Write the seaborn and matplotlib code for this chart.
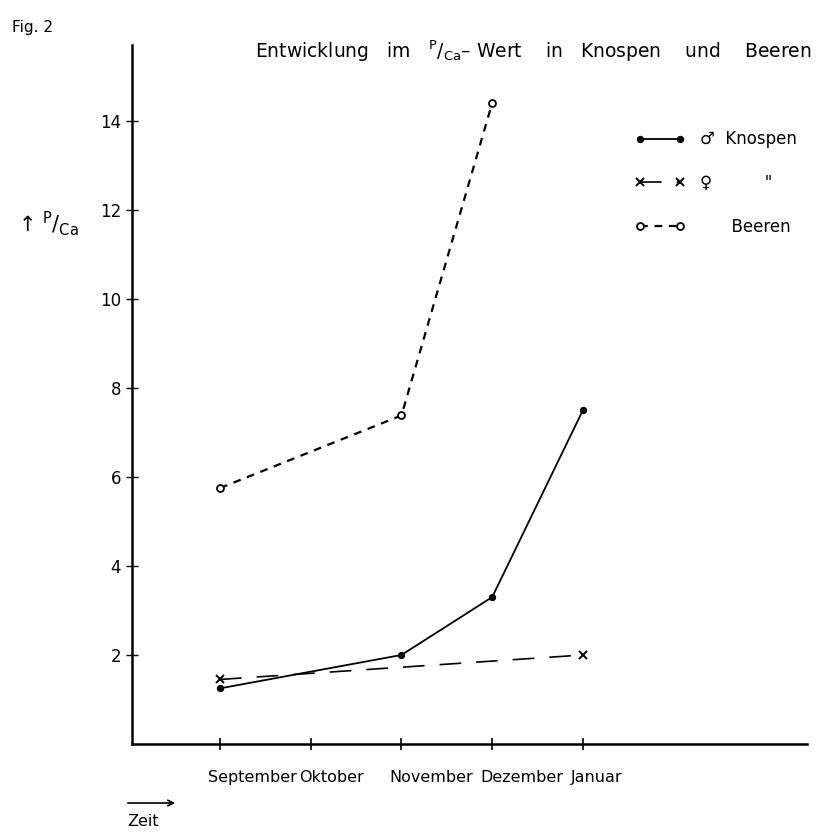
import matplotlib
matplotlib.use('Agg')
import matplotlib.pyplot as plt
import matplotlib.transforms as mtransforms
import seaborn as sns

# months on the x axis (only position index is plotted)
months = ['September', 'Oktober', 'November', 'Dezember', 'Januar']

# P/Ca values
male_x = [0, 2, 3, 4]
male_y = [1.25, 2.0, 3.3, 7.5]
female_x = [0, 4]
female_y = [1.45, 2.0]
berry_x = [0, 2, 3]
berry_y = [5.75, 7.38, 14.4]

yticks = [2, 4, 6, 8, 10, 12, 14]

sns.set_theme(style='white')
plt.rcParams['font.family'] = ['DejaVu Sans']
plt.rcParams['text.color'] = 'black'
plt.rcParams['xtick.color'] = 'black'
plt.rcParams['ytick.color'] = 'black'

fig = plt.figure(figsize=(8.17, 8.34), dpi=100)
ax = fig.add_axes([0.1616, 0.1079, 0.8262, 0.8381])

sns.lineplot(x=male_x, y=male_y, ax=ax, color='black', linewidth=1.3,
             marker='o', markersize=4.5, markeredgecolor='black',
             label='\u2642  Knospen')
sns.lineplot(x=female_x, y=female_y, ax=ax, color='black', linewidth=1.2,
             linestyle=(0, (13, 9)), marker='x', markersize=6,
             markeredgecolor='black', markeredgewidth=1.4,
             label='\u2640          "')
sns.lineplot(x=berry_x, y=berry_y, ax=ax, color='black', linewidth=1.6,
             linestyle=(0, (3.5, 3)), marker='o', markersize=5,
             markerfacecolor='white', markeredgecolor='black',
             markeredgewidth=1.3, label='      Beeren')

ax.set_xlim(-0.97, 6.47)
ax.set_ylim(0, 15.7)
ax.tick_params(axis='x', direction='inout', length=8, width=1.2, pad=15,
               color='black', bottom=True)
ax.tick_params(axis='y', direction='inout', length=8, width=1.0, pad=4,
               color='black', left=True)
ax.set_xticks(range(len(months)))
ax.set_xticklabels(months, fontsize=11.5, ha='left', color='black')
# labels start a little left of their tick, as in the original
offset = mtransforms.ScaledTranslation(-12 / 100, 0, fig.dpi_scale_trans)
for lbl in ax.get_xticklabels():
    lbl.set_transform(lbl.get_transform() + offset)
ax.set_yticks(yticks)
ax.set_yticklabels([str(v) for v in yticks], fontsize=12, color='black')
ax.set_xlabel('')
ax.set_ylabel('')

sns.despine(ax=ax)
for side in ['left', 'bottom']:
    ax.spines[side].set_color('black')
    ax.spines[side].set_linewidth(1.8)

leg = ax.legend(loc='upper left', bbox_to_anchor=(627 / 817, 1 - 122 / 834),
                bbox_transform=fig.transFigure, frameon=False, fontsize=12,
                numpoints=2, handlelength=3.0, handletextpad=0.9,
                labelspacing=1.55, borderpad=0)
for t in leg.get_texts():
    t.set_color('black')

fig.text(12 / 817, 1 - 32 / 834, 'Fig. 2', fontsize=11, color='black')
fig.text(812 / 817, 1 - 58 / 834,
         r'Entwicklung   im   $^{\mathrm{P}}/_{\mathrm{Ca}}$– Wert    in   Knospen    und    Beeren',
         fontsize=13.5, ha='right', color='black')
fig.text(18 / 817, 1 - 232 / 834,
         '\u2191 $^{\\mathrm{P}}/_{\\mathrm{Ca}}$', fontsize=15, color='black')

# "Zeit" with arrow below the axis
fig.add_artist(matplotlib.patches.FancyArrowPatch(
    (125 / 817, 1 - 803 / 834), (178 / 817, 1 - 803 / 834),
    transform=fig.transFigure, arrowstyle='->', mutation_scale=10,
    color='black', linewidth=1.2))
fig.text(127 / 817, 1 - 826 / 834, 'Zeit', fontsize=11.5, color='black')

fig.savefig('out.png', dpi=100, facecolor='white')
